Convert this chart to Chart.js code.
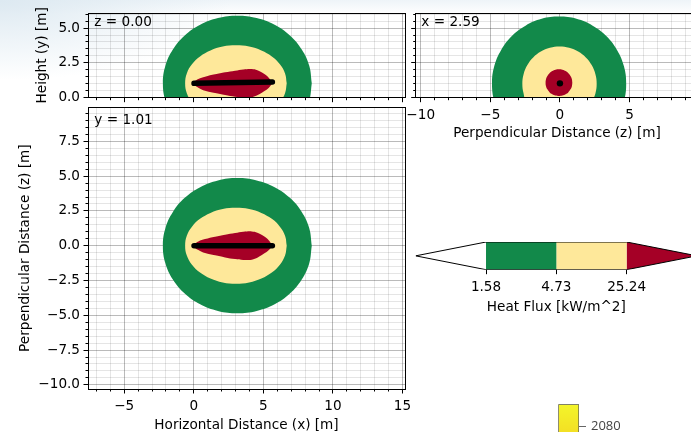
<!DOCTYPE html>
<html>
<head>
<meta charset="utf-8">
<script src="https://cdn.jsdelivr.net/npm/chart.js@4.4.0/dist/chart.umd.min.js"></script>
<style>
  html, body { margin: 0; padding: 0; width: 691px; height: 432px; overflow: hidden; }
  body {
    position: relative;
    background:
      radial-gradient(ellipse 230px 80px at 0 0, #dde9f1 0%, rgba(255,255,255,0) 100%),
      linear-gradient(#eef4f8 0px, #ffffff 14px);
  }
  canvas { position: absolute; }
</style>
</head>
<body>
<canvas id="side" width="420" height="120" style="left:0px;top:0px"></canvas>
<canvas id="plan" width="420" height="332" style="left:0px;top:100px"></canvas>
<canvas id="end" width="320" height="145" style="left:400px;top:0px"></canvas>
<canvas id="cbar" width="320" height="100" style="left:400px;top:225px"></canvas>
<canvas id="frag" width="140" height="90" style="left:540px;top:395px"></canvas>
<script>
// slice labels
const sideLabel = 'z = 0.00';
const endLabel = 'x = 2.59';
const planLabel = 'y = 1.01';

// major tick labels
const xMajor = [-5, 0, 5, 10, 15];
const heightMajor = [0, 2.5, 5];
const zMajor = [-10, -7.5, -5, -2.5, 0, 2.5, 5, 7.5];
const endMajor = [-10, -5, 0, 5, 10];

// heat flux contours seen from above (x, z)
const outerXZ = [[8.48,0],[8.30,1.26],[7.76,2.43],[6.91,3.44],[5.81,4.21],[4.52,4.69],[3.13,4.86],[1.74,4.69],[0.46,4.21],[-0.65,3.44],[-1.50,2.43],[-2.04,1.26],[-2.22,0],[-2.04,-1.26],[-1.50,-2.43],[-0.65,-3.44],[0.46,-4.21],[1.74,-4.69],[3.13,-4.86],[4.52,-4.69],[5.81,-4.21],[6.91,-3.44],[7.76,-2.43],[8.30,-1.26]];
const middleXZ = [[6.68,0],[6.56,0.71],[6.19,1.37],[5.61,1.93],[4.86,2.36],[3.98,2.64],[3.03,2.73],[2.08,2.64],[1.20,2.36],[0.45,1.93],[-0.13,1.37],[-0.50,0.71],[-0.62,0],[-0.50,-0.71],[-0.13,-1.37],[0.45,-1.93],[1.20,-2.36],[2.08,-2.64],[3.03,-2.73],[3.98,-2.64],[4.86,-2.36],[5.61,-1.93],[6.19,-1.37],[6.56,-0.71]];
const innerXZ = [[5.65,0],[5.40,0.38],[5.02,0.70],[4.57,0.94],[4.17,1.03],[3.56,1.00],[2.97,0.91],[2.25,0.79],[1.53,0.65],[0.81,0.48],[0.33,0.31],[0.05,0.12],[0.02,0],[0.05,-0.12],[0.33,-0.31],[0.81,-0.53],[1.53,-0.69],[2.25,-0.84],[2.97,-0.96],[3.56,-1.03],[4.17,-1.00],[4.60,-0.84],[5.00,-0.60],[5.40,-0.31]];
const flameXZ = [[0.02,0],[5.65,0]];
// height of the flame axis in the side view
const sideY = 1.03;
const flameXY = [[0.02,1.03],[5.65,1.12]];

// contours seen along the flame (z, y)
const outerZY = [[4.11,-1.41],[4.60,-0.25],[4.76,1.0],[4.60,2.25],[4.11,3.41],[3.35,4.41],[2.35,5.17],[1.19,5.66],[-0.06,5.82],[-1.31,5.66],[-2.47,5.17],[-3.47,4.41],[-4.23,3.41],[-4.72,2.25],[-4.88,1.0],[-4.72,-0.25],[-4.23,-1.41]];
const middleZY = [[2.28,-0.34],[2.55,0.31],[2.64,1.0],[2.55,1.69],[2.28,2.34],[1.86,2.89],[1.31,3.31],[0.66,3.58],[-0.03,3.67],[-0.72,3.58],[-1.37,3.31],[-1.92,2.89],[-2.34,2.34],[-2.61,1.69],[-2.70,1.0],[-2.61,0.31],[-2.34,-0.34]];
const innerZY = [[0.89,1.08],[0.86,1.33],[0.76,1.56],[0.61,1.76],[0.41,1.91],[0.18,2.01],[-0.07,2.04],[-0.32,2.01],[-0.55,1.91],[-0.75,1.76],[-0.90,1.56],[-1.00,1.33],[-1.03,1.08],[-1.00,0.83],[-0.90,0.60],[-0.75,0.40],[-0.55,0.25],[-0.32,0.15],[-0.07,0.12],[0.18,0.15],[0.41,0.25],[0.61,0.40],[0.76,0.60],[0.86,0.83]];
const flameZY = [[0,1.03]];

// colour bar
const fluxLevels = [1.58, 4.73, 25.24];
const fluxColors = ['#ffffff', '#12894a', '#fee89a', '#a50026'];
const fluxTitle = 'Heat Flux [kW/m^2]';

// stray colour bar piece at the bottom
const fragTicks = [2080];

const GREEN = fluxColors[1], YELLOW = fluxColors[2], RED = fluxColors[3];

Chart.defaults.color = '#000';
Chart.defaults.font.family = "'DejaVu Sans', sans-serif";
Chart.defaults.font.size = 13.6;
Chart.defaults.elements.line.capBezierPoints = false;

const isMajor = (v, majors) => majors.some(m => Math.abs(m - v) < 1e-6);
const fmt = (v, d) => v.toFixed(d).replace('-', '\u2212');
const al = v => Math.round(v - 0.5) + 0.5;
// keep the plot area where the layout padding puts it, labels may overhang
const noOverhang = s => { s.paddingLeft = 0; s.paddingRight = 0; s.paddingTop = 0; s.paddingBottom = 0; };

// ticks, frame and slice label the way matplotlib draws them
const mplAxes = {
  id: 'mplAxes',
  afterDraw(chart, args, o) {
    const { ctx, chartArea: a } = chart;
    ctx.save();
    ctx.strokeStyle = '#000';
    ctx.lineWidth = 1;
    (o.ticks || []).forEach(t => {
      const s = chart.scales[t.axis];
      s.ticks.forEach(tk => {
        const len = isMajor(tk.value, t.majors) ? 4.5 : 2.5;
        const p = al(s.getPixelForValue(tk.value));
        ctx.beginPath();
        if (s.isHorizontal()) { ctx.moveTo(p, a.bottom); ctx.lineTo(p, a.bottom + len); }
        else { ctx.moveTo(a.left, p); ctx.lineTo(a.left - len, p); }
        ctx.stroke();
      });
    });
    if (o.frame) {
      ctx.strokeRect(al(a.left), al(a.top), al(a.right) - al(a.left), al(a.bottom) - al(a.top));
    }
    if (o.label) {
      ctx.fillStyle = '#000';
      ctx.font = "13.6px 'DejaVu Sans', sans-serif";
      ctx.textBaseline = 'alphabetic';
      ctx.fillText(o.label, a.left + 0.02 * (a.right - a.left), a.top + 0.02 * (a.bottom - a.top) + 10.9);
    }
    ctx.restore();
  }
};

function linAxis(c) {
  const horizontal = c.pos === 'bottom';
  return {
    type: 'linear',
    position: c.pos,
    min: c.min,
    max: c.max,
    z: 1,
    afterBuildTicks: s => {
      const ticks = [];
      for (let v = Math.ceil(c.min / c.step - 1e-9) * c.step; v <= c.max + 1e-9; v += c.step) {
        ticks.push({ value: Math.round(v * 1000) / 1000 });
      }
      s.ticks = ticks;
    },
    afterFit: s => {
      if (horizontal) s.height = c.size; else s.width = c.size;
      noOverhang(s);
    },
    grid: {
      drawTicks: false,
      color: ctx => ctx.tick && isMajor(ctx.tick.value, c.majors) ? 'rgba(0,0,0,0.27)' : 'rgba(0,0,0,0.1)',
      lineWidth: 1
    },
    border: { display: false },
    ticks: {
      display: c.labels,
      autoSkip: false,
      maxRotation: 0,
      padding: horizontal ? 9.5 : 8,
      callback: v => isMajor(v, c.majors) ? fmt(v, c.digits) : ''
    },
    title: {
      display: !!c.title,
      text: c.title || '',
      padding: { top: c.titlePad || 0, bottom: c.titlePad || 0 }
    }
  };
}

// closed outline: the first point is repeated so the curve closes smoothly
const pts = (arr, dy = 0) => arr.map(([x, y]) => ({ x, y: y + dy }));
const loop = (arr, dy) => pts(arr.concat([arr[0]]), dy);
const region = (arr, color, order, dy) => ({
  data: loop(arr, dy), backgroundColor: color, borderWidth: 0, pointRadius: 0, fill: 'shape', order, tension: 0.4
});
const flameLine = (arr) => ({
  data: pts(arr), borderColor: '#000', borderWidth: 5.5, borderCapStyle: 'round', pointRadius: 0, fill: false, order: 0
});

function panel(id, datasets, padding, x, y, extra) {
  return new Chart(document.getElementById(id), {
    type: 'line',
    data: { datasets },
    options: {
      responsive: false, animation: false, events: [], devicePixelRatio: 1,
      layout: { padding },
      plugins: {
        legend: { display: false }, tooltip: { enabled: false },
        mplAxes: Object.assign({ frame: true, ticks: [{ axis: 'x', majors: x.majors }, { axis: 'y', majors: y.majors }] }, extra)
      },
      scales: { x: linAxis(x), y: linAxis(y) }
    },
    plugins: [mplAxes]
  });
}

// side view (x, y)
panel('side', [
  region(outerXZ, GREEN, 4, sideY), region(middleXZ, YELLOW, 3, sideY), region(innerXZ, RED, 2, sideY), flameLine(flameXY)
], { left: 0, top: 13, right: 15, bottom: 0 },
  { pos: 'bottom', min: -7.6, max: 15.18, majors: xMajor, step: 1, digits: 0, labels: false, size: 22.3 },
  { pos: 'left', min: 0, max: 6.08, majors: heightMajor, step: 0.5, digits: 1, labels: true, title: 'Height (y) [m]', titlePad: 34.4, size: 88 },
  { label: sideLabel });

// plan view (x, z)
panel('plan', [
  region(outerXZ, GREEN, 4), region(middleXZ, YELLOW, 3), region(innerXZ, RED, 2), flameLine(flameXZ)
], { left: 0, top: 7.3, right: 15, bottom: 0 },
  { pos: 'bottom', min: -7.6, max: 15.18, majors: xMajor, step: 1, digits: 0, labels: true, title: 'Horizontal Distance (x) [m]', titlePad: -1.6, size: 43 },
  { pos: 'left', min: -10.3, max: 9.95, majors: zMajor, step: 0.5, digits: 1, labels: true, title: 'Perpendicular Distance (z) [m]', titlePad: 17.6, size: 88 },
  { label: planLabel });

// end view (z, y)
panel('end', [
  region(outerZY, GREEN, 4), region(middleZY, YELLOW, 3), region(innerZY, RED, 2),
  { data: pts(flameZY), showLine: false, pointRadius: 3.2, pointBackgroundColor: '#000', pointBorderWidth: 0, order: 0 }
], { left: 0, top: 13, right: 21.7, bottom: 0 },
  { pos: 'bottom', min: -10.36, max: 9.94, majors: endMajor, step: 1, digits: 0, labels: true, title: 'Perpendicular Distance (z) [m]', titlePad: 2.9, size: 47.3 },
  { pos: 'left', min: 0, max: 6.08, majors: heightMajor, step: 0.5, digits: 1, labels: false, size: 15.7 },
  { label: endLabel });

// colour bar with extensions, built from level indices
const n = fluxLevels.length;
const cbarSets = [];
cbarSets.push({ data: pts([[-1, 0.5], [0, 1], [0, 0]]), backgroundColor: fluxColors[0] });
for (let i = 0; i < n - 1; i++) {
  cbarSets.push({ data: pts([[i, 0], [i + 1, 0], [i + 1, 1], [i, 1]]), backgroundColor: fluxColors[i + 1] });
}
cbarSets.push({ data: pts([[n - 1, 0], [n, 0.5], [n - 1, 1]]), backgroundColor: fluxColors[n] });
cbarSets.forEach(d => Object.assign(d, { borderWidth: 0, pointRadius: 0, fill: 'shape', order: 2 }));
cbarSets.push({
  data: pts([[-1, 0.5], [0, 1], [n - 1, 1], [n, 0.5], [n - 1, 0], [0, 0], [-1, 0.5]]),
  borderColor: '#000', borderWidth: 1, pointRadius: 0, fill: false, order: 0
});

new Chart(document.getElementById('cbar'), {
  type: 'line',
  data: { datasets: cbarSets },
  options: {
    responsive: false, animation: false, events: [], devicePixelRatio: 1,
    layout: { padding: { left: 15.7, top: 17, right: 23.05, bottom: 0 } },
    plugins: {
      legend: { display: false }, tooltip: { enabled: false },
      mplAxes: { frame: false, ticks: [{ axis: 'x', majors: [0, 1, 2] }] }
    },
    scales: {
      x: {
        type: 'linear', min: -1, max: n,
        afterBuildTicks: s => { s.ticks = fluxLevels.map((_, i) => ({ value: i })); },
        afterFit: s => { s.height = 55.3; noOverhang(s); },
        grid: { display: false, drawTicks: false },
        border: { display: false },
        ticks: { autoSkip: false, maxRotation: 0, padding: 9.5, callback: v => fluxLevels[v].toFixed(2) },
        title: { display: true, text: fluxTitle, padding: { top: 9.4, bottom: 9.4 } }
      },
      y: { type: 'linear', min: 0, max: 1, display: false }
    }
  },
  plugins: [mplAxes]
});

// partial colour bar of another plot at the bottom edge
new Chart(document.getElementById('frag'), {
  type: 'line',
  data: {
    datasets: [{
      data: pts([[0, 2040], [1, 2040], [1, 2100], [0, 2100], [0, 2040]]),
      fill: 'shape', pointRadius: 0, borderColor: '#5a5a5a', borderWidth: 1.3,
      backgroundColor: c => {
        const a = c.chart.chartArea;
        if (!a) return '#f2ee2a';
        const g = c.chart.ctx.createLinearGradient(0, a.top, 0, a.bottom);
        g.addColorStop(0, '#f3f52a');
        g.addColorStop(1, '#f3c21c');
        return g;
      }
    }]
  },
  options: {
    responsive: false, animation: false, events: [], devicePixelRatio: 1,
    layout: { padding: { left: 18.3, top: 9.3, right: 41, bottom: 13.5 } },
    plugins: { legend: { display: false }, tooltip: { enabled: false } },
    scales: {
      x: { type: 'linear', min: 0, max: 1, display: false },
      y: {
        type: 'linear', position: 'right', min: 2040, max: 2100,
        afterBuildTicks: s => { s.ticks = fragTicks.map(v => ({ value: v })); },
        afterFit: s => { s.width = 60; noOverhang(s); },
        grid: { drawOnChartArea: false, drawTicks: true, tickLength: 7, tickColor: '#666', tickWidth: 1 },
        border: { display: false },
        ticks: { padding: 5, color: '#444', font: { family: "'Open Sans', sans-serif", size: 13 }, callback: v => String(v) }
      }
    }
  }
});
</script>
</body>
</html>
